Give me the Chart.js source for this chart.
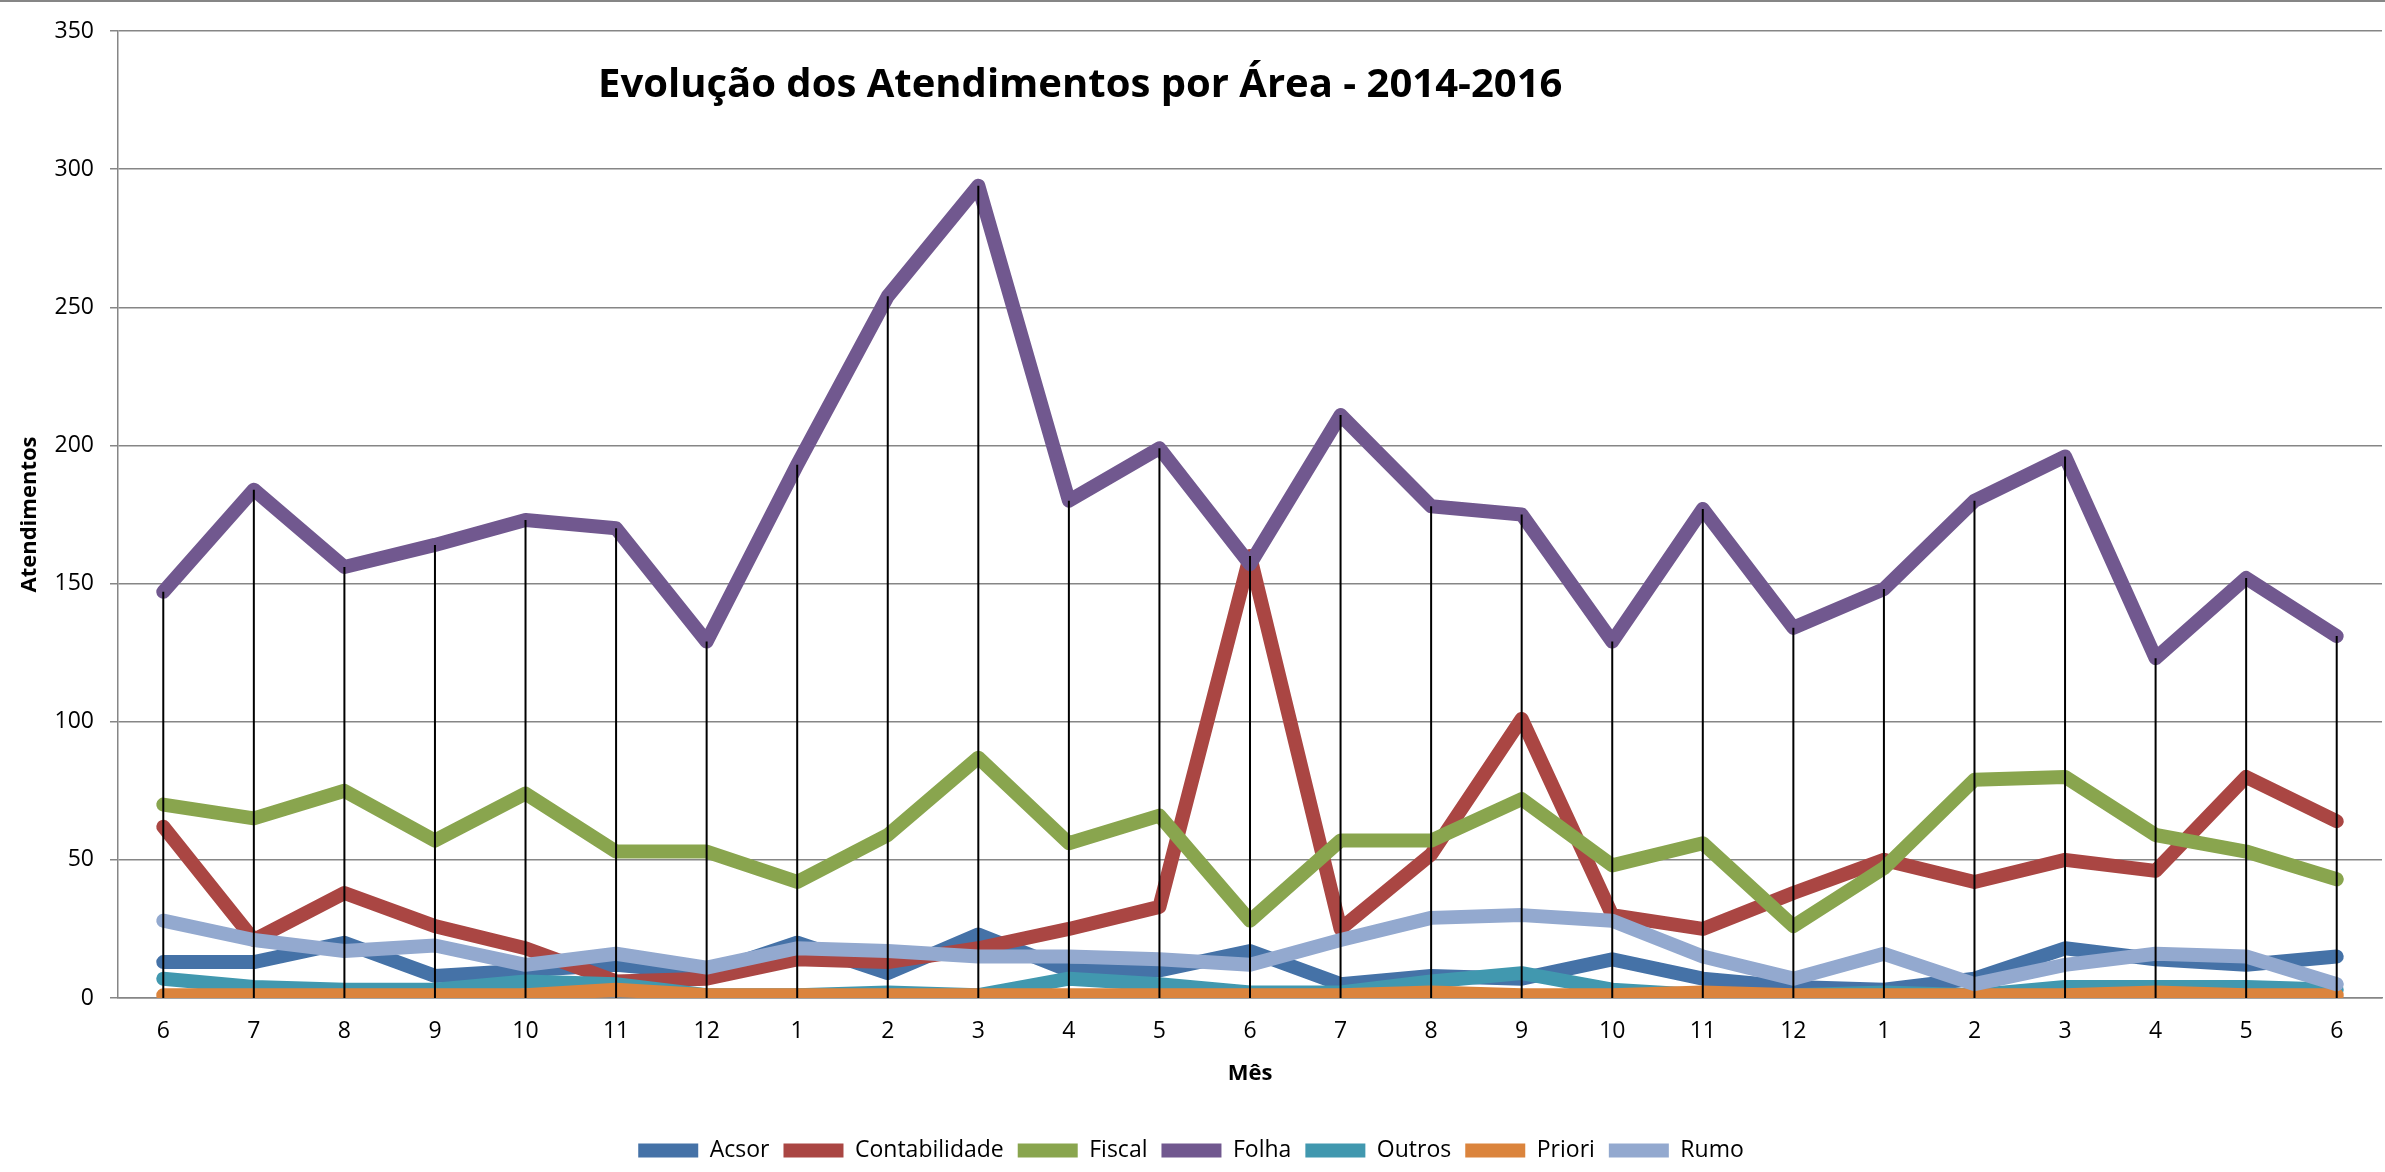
<!DOCTYPE html>
<html>
<head>
<meta charset="utf-8">
<script src="https://cdn.jsdelivr.net/npm/chart.js@4/dist/chart.umd.min.js"></script>
<style>
  html, body { margin: 0; padding: 0; background: #fff; }
</style>
</head>
<body>
<canvas id="grafico" width="2385" height="1172"></canvas>
<script>
// meses de jun/2014 a jun/2016
const meses = ['6','7','8','9','10','11','12','1','2','3','4','5','6','7','8','9','10','11','12','1','2','3','4','5','6'];

const acsor         = [13, 13, 20,  8, 10, 12,  9, 20,  9, 23, 10, 10,  17,   5,   8,   7,  14,   7,   4,   3,   7,  18,  14,  12,  15];
const contabilidade = [62, 21, 38, 26, 18,  6,  7, 14, 13, 18, 25, 33, 160,  25,  52, 101,  30,  25,  38,  50,  42,  50,  46,  80,  64];
const fiscal        = [70, 65, 75, 57, 74, 53, 53, 42, 59, 87, 56, 66,  28,  57,  57,  72,  48,  56,  26,  47,  79,  80,  59,  53,  43];
const folha         = [147,184,156,164,173,170,129,193,254,294,180,199,157, 211, 178, 175, 129, 177, 134, 148, 180, 196, 123, 152, 131];
const outros        = [ 7,  4,  3,  3,  6,  5,  1,  1,  2,  1,  7,  5,   2,   2,   6,   9,   3,   1,   1,   2,   1,   4,   4,   4,   3];
const priori        = [ 1,  1,  1,  1,  1,  3,  1,  1,  1,  1,  1,  1,   1,   1,   2,   1,   1,   2,   1,   1,   1,   1,   2,   1,   1];
const rumo          = [28, 21, 17, 19, 12, 16, 11, 18, 17, 15, 15, 14,  12,  21,  29,  30,  28,  15,   7,  16,   5,  12,  16,  15,   5];

const series = [
  { nome: 'Acsor',         dados: acsor,         cor: '#4572A7' },
  { nome: 'Contabilidade', dados: contabilidade, cor: '#AA4643' },
  { nome: 'Fiscal',        dados: fiscal,        cor: '#89A54E' },
  { nome: 'Folha',         dados: folha,         cor: '#71588F' },
  { nome: 'Outros',        dados: outros,        cor: '#4198AF' },
  { nome: 'Priori',        dados: priori,        cor: '#DB843D' },
  { nome: 'Rumo',          dados: rumo,          cor: '#93A9CF' }
];

const fonte = '"Open Sans", "Noto Sans", sans-serif';

// linhas verticais pretas do ponto mais alto até o eixo (como no Excel)
const linhasDeQueda = {
  id: 'linhasDeQueda',
  afterDatasetsDraw(chart) {
    const ctx = chart.ctx;
    const y0 = chart.scales.y.getPixelForValue(0);
    ctx.save();
    ctx.strokeStyle = '#000';
    ctx.lineWidth = 2;
    meses.forEach((m, i) => {
      let topo = y0, x = null;
      chart.data.datasets.forEach((ds, d) => {
        const p = chart.getDatasetMeta(d).data[i];
        if (!p) return;
        x = p.x;
        if (p.y < topo) topo = p.y;
      });
      if (x === null) return;
      ctx.beginPath();
      ctx.moveTo(x, topo);
      ctx.lineTo(x, y0);
      ctx.stroke();
    });
    ctx.restore();
  }
};

// título dentro da área do gráfico + borda superior cinza
const tituloInterno = {
  id: 'tituloInterno',
  beforeDraw(chart) {
    const ctx = chart.ctx;
    ctx.save();
    ctx.fillStyle = '#868686';
    ctx.fillRect(0, 0, chart.width, 2);
    ctx.restore();
  },
  afterDraw(chart) {
    const a = chart.chartArea;
    const ctx = chart.ctx;
    ctx.save();
    ctx.font = 'bold 40px ' + fonte;
    ctx.fillStyle = '#000';
    ctx.textAlign = 'center';
    ctx.textBaseline = 'middle';
    ctx.fillText('Evolução dos Atendimentos por Área - 2014-2016',
      a.left + (a.right - a.left) * 0.425, a.top + (a.bottom - a.top) * 0.056);
    ctx.restore();
  }
};

new Chart(document.getElementById('grafico'), {
  type: 'line',
  data: {
    labels: meses,
    datasets: series.map((s, i) => ({
      label: s.nome,
      data: s.dados,
      borderColor: s.cor,
      backgroundColor: s.cor,
      borderWidth: 14,
      borderCapStyle: 'round',
      borderJoinStyle: 'round',
      pointRadius: 0,
      pointHoverRadius: 0,
      tension: 0,
      fill: false,
      order: series.length - i
    }))
  },
  options: {
    responsive: false,
    animation: false,
    layout: { padding: { top: 31, right: 3, bottom: 0, left: 0 } },
    plugins: {
      title: { display: false },
      tooltip: { enabled: false },
      legend: {
        position: 'bottom',
        labels: {
          usePointStyle: true,
          pointStyle: 'line',
          pointStyleWidth: 60,
          padding: 14,
          color: '#000',
          font: { family: fonte, size: 23 },
          sort: (a, b) => a.datasetIndex - b.datasetIndex
        }
      }
    },
    scales: {
      x: {
        offset: true,
        grid: { display: false, drawTicks: false },
        border: { display: true, color: '#868686', width: 1.5 },
        ticks: { color: '#000', padding: 20, maxRotation: 0, autoSkip: false, font: { family: fonte, size: 23 } },
        title: { display: true, text: 'Mês', color: '#000', padding: { top: 0, bottom: 38 }, font: { family: fonte, size: 22, weight: 'bold' } },
        afterFit: (escala) => { escala.height = 127; }
      },
      y: {
        min: 0,
        max: 350,
        ticks: { stepSize: 50, color: '#000', padding: 16, font: { family: fonte, size: 23 } },
        grid: { color: '#868686', lineWidth: 1.5, tickLength: 8, drawTicks: true },
        border: { display: true, color: '#868686', width: 1.5 },
        title: { display: true, text: 'Atendimentos', color: '#000', padding: { top: 17, bottom: 0 }, font: { family: fonte, size: 22, weight: 'bold' } },
        afterFit: (escala) => { escala.width = 118; }
      }
    }
  },
  plugins: [linhasDeQueda, tituloInterno]
});
</script>
</body>
</html>
